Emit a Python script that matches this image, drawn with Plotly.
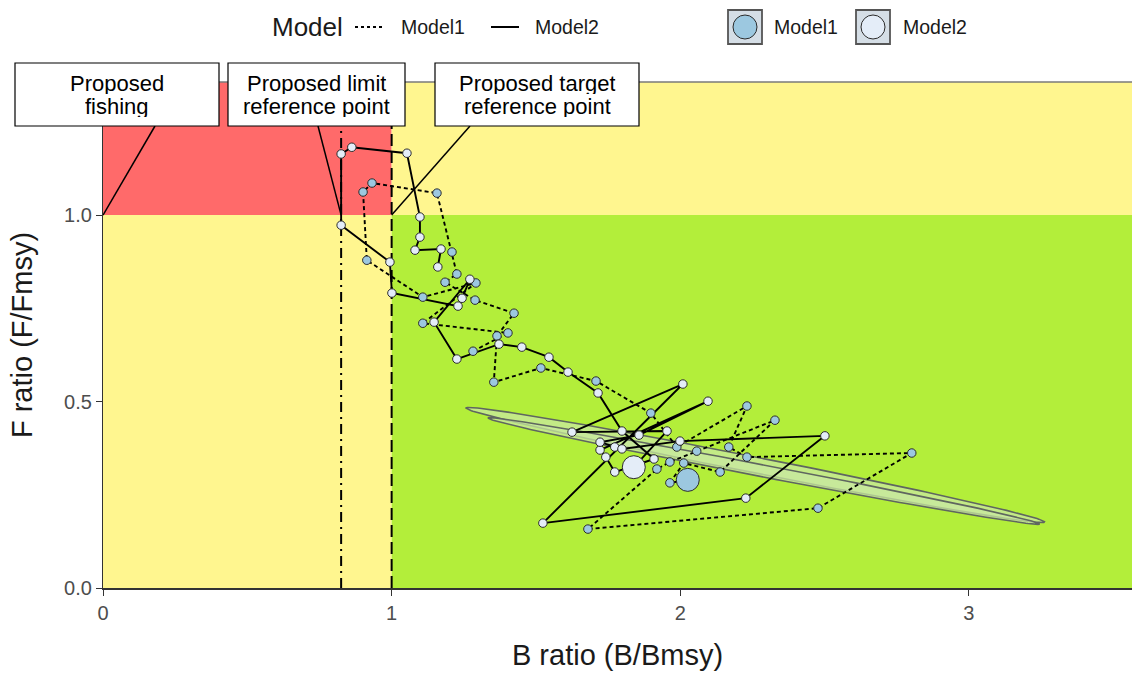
import numpy as np
import plotly.graph_objects as go

# ---------------- data ----------------
m1_b = [1.282, 1.403, 1.108, 1.292, 1.108, 0.914, 0.901, 0.932, 1.157, 1.209,
        1.226, 1.185, 1.289, 1.424, 1.365, 1.354, 1.517, 1.708, 1.898, 1.988,
        2.231, 2.168, 2.231, 2.802, 2.477, 1.680, 1.919, 1.964, 2.057, 2.328,
        2.138, 2.012, 1.964, 2.026]
m1_f = [0.635, 0.684, 0.710, 0.818, 0.780, 0.879, 1.062, 1.086, 1.059, 0.901,
        0.842, 0.820, 0.772, 0.737, 0.676, 0.552, 0.590, 0.555, 0.469, 0.378,
        0.488, 0.378, 0.351, 0.362, 0.214, 0.158, 0.319, 0.338, 0.367, 0.450,
        0.311, 0.335, 0.282, 0.290]

m2_b = [1.160, 1.171, 1.081, 1.098, 1.098, 1.053, 0.862, 0.825, 0.825, 0.994,
        1.001, 1.230, 1.244, 1.271, 1.147, 1.226, 1.372, 1.451, 1.545, 1.611,
        1.715, 1.798, 1.909, 1.773, 1.742, 1.722, 2.096, 1.857, 1.722, 1.773,
        1.798, 1.999, 2.501, 2.227, 1.524, 2.009, 1.625, 1.954, 1.839]
m2_f = [0.861, 0.909, 0.906, 0.941, 0.995, 1.166, 1.182, 1.164, 0.973, 0.874,
        0.791, 0.756, 0.777, 0.828, 0.713, 0.614, 0.654, 0.646, 0.619, 0.579,
        0.523, 0.421, 0.346, 0.311, 0.351, 0.370, 0.501, 0.410, 0.391, 0.378,
        0.373, 0.394, 0.408, 0.241, 0.174, 0.547, 0.418, 0.421, 0.324]

# uncertainty ellipses: centre, major half-vector, minor half-vector (data units)
ell_a_centre = [2.2603, 0.3298]
ell_a_major = [1.0026, -0.15285]
ell_a_minor = [-0.00535, -0.0210]
ell_b_centre = [2.2896, 0.3137]
ell_b_major = [0.9560, -0.1421]
ell_b_minor = [-0.0039, -0.0158]

fishing_ref = 0.0
limit_ref = 0.825
target_ref = 1.0
f_ref = 1.0

x_ticks = [0, 1, 2, 3]
y_ticks = [0.0, 0.5, 1.0]
y_tick_text = ["0.0", "0.5", "1.0"]
x_max = 3.565
y_max = 1.357

callout_lines = [["Proposed", "fishing"],
                 ["Proposed limit", "reference point"],
                 ["Proposed target", "reference point"]]

# ---------------- layout helpers ----------------
W, H = 1132, 675
L, R, T, B = 103, 0, 82, 87
PW, PH = W - L - R, H - T - B


def px(xp):
    return (xp - L) / PW


def py(yp):
    return (H - B - yp) / PH


def dx(xp):
    return (xp - L) / PW * x_max


def dy(yp):
    return (H - B - yp) / PH * y_max


FONT = "Liberation Sans, Arial, sans-serif"
RED, YEL, GRN = "#FF6A6A", "#FFF68F", "#B3EE3A"
C1, C2 = "#9CC8E0", "#E4EDF8"

fig = go.Figure()

# ellipses
for c, a, b in [(ell_a_centre, ell_a_major, ell_a_minor), (ell_b_centre, ell_b_major, ell_b_minor)]:
    t = np.linspace(0, 2 * np.pi, 240)
    ex = c[0] + a[0] * np.cos(t) + b[0] * np.sin(t)
    ey = c[1] + a[1] * np.cos(t) + b[1] * np.sin(t)
    fig.add_trace(go.Scatter(x=ex, y=ey, mode="lines", fill="toself",
                             fillcolor="rgba(200,232,160,0.75)",
                             line=dict(color="#5f6660", width=1.6),
                             hoverinfo="skip", showlegend=False))

# trajectories
fig.add_trace(go.Scatter(x=m1_b, y=m1_f, mode="lines",
                         line=dict(color="black", width=1.9, dash="4px,3px"),
                         showlegend=False))
fig.add_trace(go.Scatter(x=m2_b, y=m2_f, mode="lines",
                         line=dict(color="black", width=1.9),
                         showlegend=False))
fig.add_trace(go.Scatter(x=m1_b[:-1], y=m1_f[:-1], mode="markers",
                         marker=dict(size=8.5, color=C1, line=dict(color="#2b2b2b", width=1)),
                         showlegend=False))
fig.add_trace(go.Scatter(x=m2_b[:-1], y=m2_f[:-1], mode="markers",
                         marker=dict(size=8.5, color=C2, line=dict(color="#2b2b2b", width=1)),
                         showlegend=False))
fig.add_trace(go.Scatter(x=[m1_b[-1]], y=[m1_f[-1]], mode="markers",
                         marker=dict(size=23, color=C1, line=dict(color="#2b2b2b", width=1)),
                         showlegend=False))
fig.add_trace(go.Scatter(x=[m2_b[-1]], y=[m2_f[-1]], mode="markers",
                         marker=dict(size=23, color=C2, line=dict(color="#2b2b2b", width=1)),
                         showlegend=False))

shapes = [
    dict(type="rect", xref="x", yref="y", x0=0, x1=target_ref, y0=f_ref, y1=y_max,
         fillcolor=RED, line_width=0, layer="below"),
    dict(type="rect", xref="x", yref="y", x0=target_ref, x1=x_max, y0=f_ref, y1=y_max,
         fillcolor=YEL, line_width=0, layer="below"),
    dict(type="rect", xref="x", yref="y", x0=0, x1=target_ref, y0=0, y1=f_ref,
         fillcolor=YEL, line_width=0, layer="below"),
    dict(type="rect", xref="x", yref="y", x0=target_ref, x1=x_max, y0=0, y1=f_ref,
         fillcolor=GRN, line_width=0, layer="below"),
    dict(type="line", xref="x", yref="y", x0=limit_ref, x1=limit_ref, y0=0, y1=y_max,
         line=dict(color="black", width=2, dash="10px,5px,2px,5px"), layer="below"),
    dict(type="line", xref="x", yref="y", x0=target_ref, x1=target_ref, y0=0, y1=y_max,
         line=dict(color="black", width=2, dash="12px,5px"), layer="below"),
    dict(type="line", xref="paper", yref="paper", x0=0, x1=1, y0=1, y1=1,
         line=dict(color="#7a7a7a", width=1.5)),
    # callout leader lines
    dict(type="line", xref="x", yref="y", x0=dx(155), y0=dy(126), x1=fishing_ref, y1=f_ref,
         line=dict(color="black", width=1.5)),
    dict(type="line", xref="x", yref="y", x0=dx(318), y0=dy(126), x1=limit_ref, y1=f_ref,
         line=dict(color="black", width=1.5)),
    dict(type="line", xref="x", yref="y", x0=dx(470), y0=dy(126), x1=target_ref, y1=f_ref,
         line=dict(color="black", width=1.5)),
]

annotations = []
for (x0, x1), lines in zip([(15, 219), (228, 405), (435, 639)], callout_lines):
    shapes.append(dict(type="rect", xref="paper", yref="paper", x0=px(x0), x1=px(x1),
                       y0=py(126), y1=py(63), fillcolor="white",
                       line=dict(color="black", width=1.2)))
    for yl, txt in zip([83.5, 106], lines):
        annotations.append(dict(xref="paper", yref="paper", x=px((x0 + x1) / 2), y=py(yl),
                                xanchor="center", yanchor="middle", showarrow=False,
                                text=txt, height=22, borderpad=0, valign="middle",
                                font=dict(family=FONT, size=22, color="black")))

# legend (manual)
ly = 27
annotations.append(dict(xref="paper", yref="paper", x=px(270), y=py(ly), xanchor="left",
                        yanchor="middle", showarrow=False, text="Model",
                        font=dict(family=FONT, size=26, color="#1a1a1a")))
for x0, txt in [(399, "Model1"), (533, "Model2"), (772, "Model1"), (901, "Model2")]:
    annotations.append(dict(xref="paper", yref="paper", x=px(x0), y=py(ly), xanchor="left",
                            yanchor="middle", showarrow=False, text=txt,
                            font=dict(family=FONT, size=19.5, color="#1a1a1a")))
shapes.append(dict(type="line", xref="paper", yref="paper", x0=px(355), x1=px(383),
                   y0=py(ly), y1=py(ly), line=dict(color="black", width=1.8, dash="3px,3px")))
shapes.append(dict(type="line", xref="paper", yref="paper", x0=px(491), x1=px(519),
                   y0=py(ly), y1=py(ly), line=dict(color="black", width=2)))
for kx, col in [(728, C1), (856, C2)]:
    shapes.append(dict(type="rect", xref="paper", yref="paper", x0=px(kx), x1=px(kx + 34),
                       y0=py(44), y1=py(10), fillcolor="#D5DEE6",
                       line=dict(color="#555555", width=1.8)))
    shapes.append(dict(type="circle", xref="paper", yref="paper", x0=px(kx + 5), x1=px(kx + 29),
                       y0=py(ly + 12), y1=py(ly - 12), fillcolor=col,
                       line=dict(color="#2b2b2b", width=1)))

fig.update_layout(
    width=W, height=H,
    margin=dict(l=L, r=R, t=T, b=B, pad=0, autoexpand=False),
    paper_bgcolor="white", plot_bgcolor="white",
    showlegend=False,
    shapes=shapes, annotations=annotations,
    font=dict(family=FONT),
    xaxis=dict(range=[0, x_max], tickvals=x_ticks, showgrid=False, zeroline=False,
               automargin=False,
               showline=True, linecolor="#333333", linewidth=2, ticks="outside",
               ticklen=6, tickcolor="#333333", tickwidth=1.2,
               tickfont=dict(family=FONT, size=20, color="#4d4d4d"),
               title=dict(text="B ratio (B/Bmsy)", font=dict(family=FONT, size=29, color="#1a1a1a"),
                          standoff=22)),
    yaxis=dict(range=[0, y_max], tickvals=y_ticks, ticktext=y_tick_text, showgrid=False,
               automargin=False,
               zeroline=False, showline=True, linecolor="#333333", linewidth=1.2,
               ticks="outside", ticklen=6, tickcolor="#333333", tickwidth=1.2,
               tickfont=dict(family=FONT, size=20, color="#4d4d4d"),
               title=dict(text="F ratio (F/Fmsy)", font=dict(family=FONT, size=29, color="#1a1a1a"),
                          standoff=22)),
)

fig.write_html("out.html", config={"displayModeBar": False},
               post_script="document.body.style.margin='0';document.body.style.overflow='hidden';")
